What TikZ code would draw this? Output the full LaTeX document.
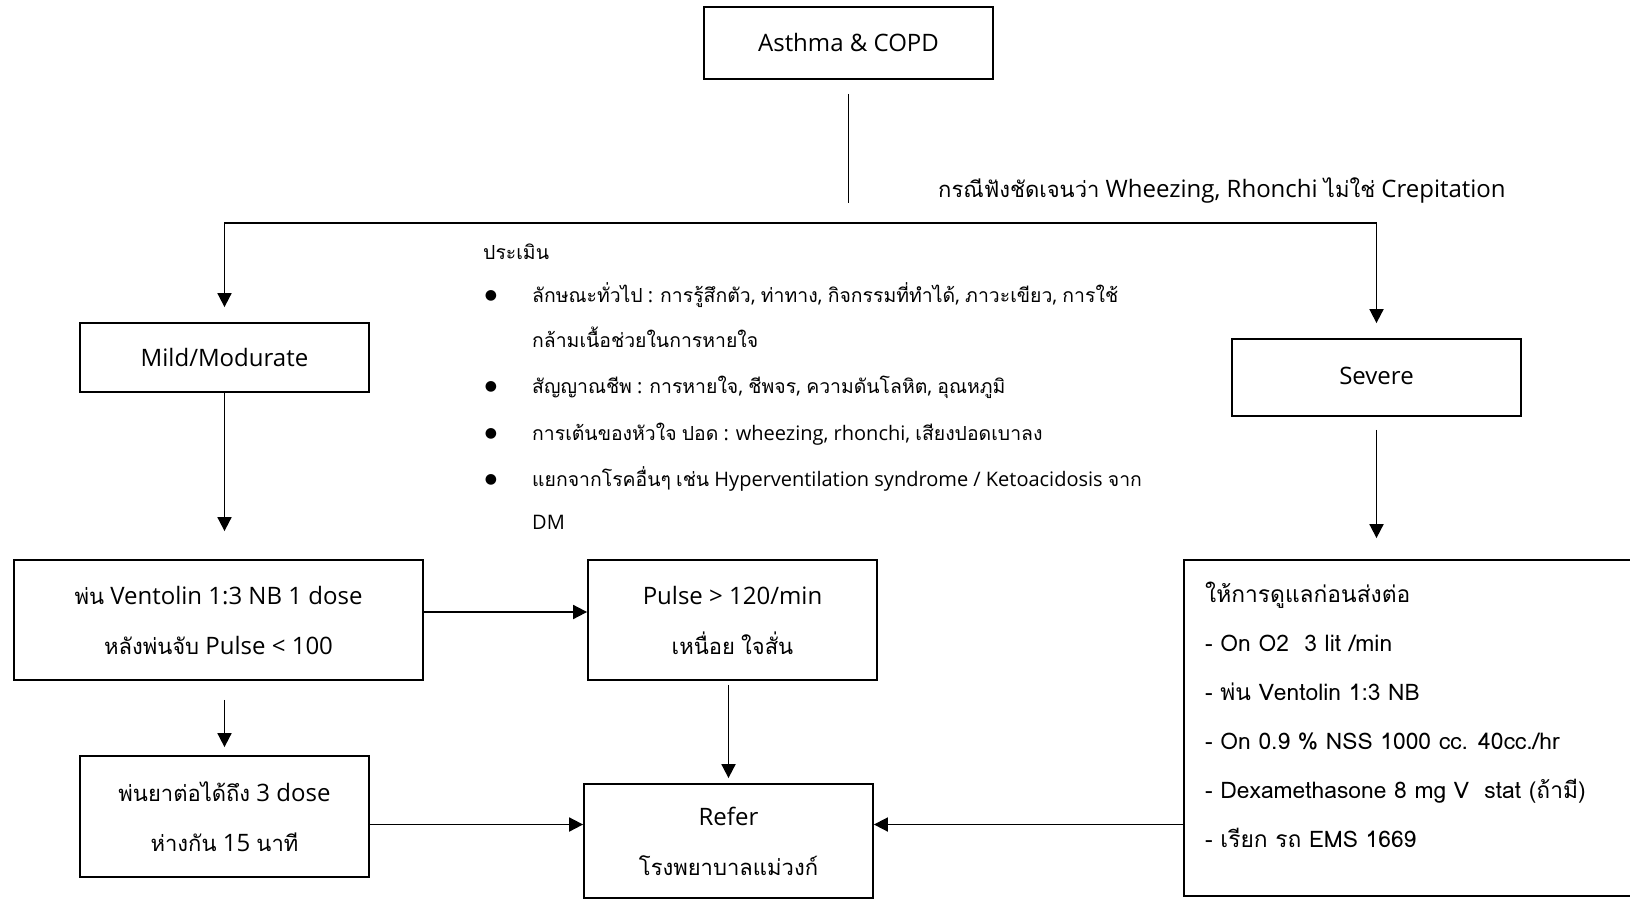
\documentclass[tikz,border=0pt]{standalone}
\usepackage{fontspec}
\setmainfont{Open Sans}
\newfontfamily\thaifont[Script=Thai, Scale=0.917]{Loma}
\newfontfamily\thaifontB[Script=Thai, Scale=0.97]{Loma}
\newfontfamily\carefont[Script=Thai]{Loma}
\newfontfamily\symfont{DejaVu Sans}
\let\curthai\thaifont
\XeTeXinterchartokenstate=1
\newXeTeXintercharclass\thaiclass
\count255="0E00
\loop
  \XeTeXcharclass\count255=\thaiclass
  \ifnum\count255<"0E7F \advance\count255 by 1
\repeat
\XeTeXinterchartoks 0 \thaiclass = {\begingroup\curthai}
\XeTeXinterchartoks 4095 \thaiclass = {\begingroup\curthai}
\XeTeXinterchartoks \thaiclass 0 = {\endgroup}
\XeTeXinterchartoks \thaiclass 4095 = {\endgroup}
\newcommand\myCareFont{\XeTeXinterchartokenstate=0 \carefont}
\newcommand\myListFont{\let\curthai\thaifontB}
\usetikzlibrary{arrows.meta,calc}
\tikzset{
  box/.style={draw, line width=1.8pt, inner sep=0pt, align=center,
    font=\fontsize{24}{50}\selectfont},
  arr/.style={line width=1.8pt, -{Triangle[length=14pt,width=14pt]}},
  ln/.style={line width=1.8pt},
  txt/.style={inner sep=0pt, anchor=base west, font={\myListFont\fontsize{20}{46}\selectfont}},
  dot/.style={inner sep=0pt, font=\symfont\fontsize{14}{14}\selectfont}
}
\begin{document}
\begin{tikzpicture}[x=1pt,y=-1pt]
\useasboundingbox (0,0) rectangle (1630,899);
\fill[white] (0,0) rectangle (1630,899);
% boxes
\node[box, minimum width=289pt, minimum height=72pt] (asthma) at (848.5,43) {Asthma \& COPD};
\node[box, minimum width=289pt, minimum height=69pt] (mild) at (224.5,357.5) {Mild/Modurate};
\node[box, minimum width=289pt, minimum height=77pt] (severe) at (1376.5,377.5) {\raisebox{4pt}{Severe}};
\node[box, minimum width=409pt, minimum height=120pt] (vent) at (218.5,620) {พ่น Ventolin 1:3 NB 1 dose\\หลังพ่นจับ Pulse < 100};
\node[box, minimum width=289pt, minimum height=120pt] (pulse) at (732.5,620) {Pulse > 120/min\\เหนื่อย ใจสั่น};
\node[box, minimum width=289pt, minimum height=121pt] (cont) at (224.5,816.5) {พ่นยาต่อได้ถึง 3 dose\\ห่างกัน 15 นาที};
\node[box, minimum width=289pt, minimum height=114pt] (refer) at (728.5,841) {Refer\\โรงพยาบาลแม่วงก์};
\node[box, minimum width=448pt, minimum height=336pt] (care) at (1408,728) {};
\node[inner sep=0pt, anchor=west, align=left, font={\myCareFont\fontsize{22.8}{49}\selectfont}] (caretext) at (1205,715)
 {ให้การดูแลก่อนส่งต่อ\\- On O2\ \ 3 lit /min\\- พ่น Ventolin 1:3 NB\\- On 0.9 \% NSS 1000 cc. 40cc./hr\\- Dexamethasone 8 mg V\ \ stat (ถ้ามี)\\- เรียก รถ EMS 1669};
% label
\node[inner sep=0pt, anchor=west, font=\fontsize{24}{26}\selectfont] (cond) at (938,190) {กรณีฟังชัดเจนว่า Wheezing, Rhonchi ไม่ใช่ Crepitation};
% assessment list
\node[txt] (assess) at (483,259) {ประเมิน};
\node[txt] (l1) at (532,302) {ลักษณะทั่วไป : การรู้สึกตัว, ท่าทาง, กิจกรรมที่ทำได้, ภาวะเขียว, การใช้};
\node[txt] (l2) at (532,347) {กล้ามเนื้อช่วยในการหายใจ};
\node[txt] (l3) at (532,393) {สัญญาณชีพ : การหายใจ, ชีพจร, ความดันโลหิต, อุณหภูมิ};
\node[txt] (l4) at (532,440) {การเต้นของหัวใจ ปอด : wheezing, rhonchi, เสียงปอดเบาลง};
\node[txt] (l5) at (532,486) {แยกจากโรคอื่นๆ เช่น Hyperventilation syndrome / Ketoacidosis จาก};
\node[txt] (l6) at (532,529) {DM};
\node[dot] (b1) at (491,296) {●};
\node[dot] (b2) at (491,387) {●};
\node[dot] (b3) at (491,434) {●};
\node[dot] (b4) at (491,480) {●};
% connectors
\coordinate (split) at (848.5,203);
\coordinate (hmid) at (848.5,223);
\coordinate (rowA) at (0,612);
\coordinate (rowB) at (0,824.5);
\draw[ln, shorten <=14pt] (asthma.south) -- (split);
\draw[arr, shorten >=15pt] (hmid) -| (mild.north);
\draw[arr, shorten >=15pt] (hmid) -| (severe.north);
\draw[arr, shorten >=28pt] (mild.south) -- (vent.north -| mild.south);
\draw[arr, shorten <=13pt, shorten >=21pt] (severe.south) -- (care.north -| severe.south);
\draw[arr] (vent.east |- rowA) -- (pulse.west |- rowA);
\draw[arr, shorten <=19pt, shorten >=8pt] (vent.south -| cont.north) -- (cont.north);
\draw[arr, shorten <=4pt, shorten >=5pt] (pulse.south -| refer.north) -- (refer.north);
\draw[arr] (cont.east |- rowB) -- (refer.west |- rowB);
\draw[arr] (care.west |- rowB) -- (refer.east |- rowB);
\end{tikzpicture}
\end{document}
